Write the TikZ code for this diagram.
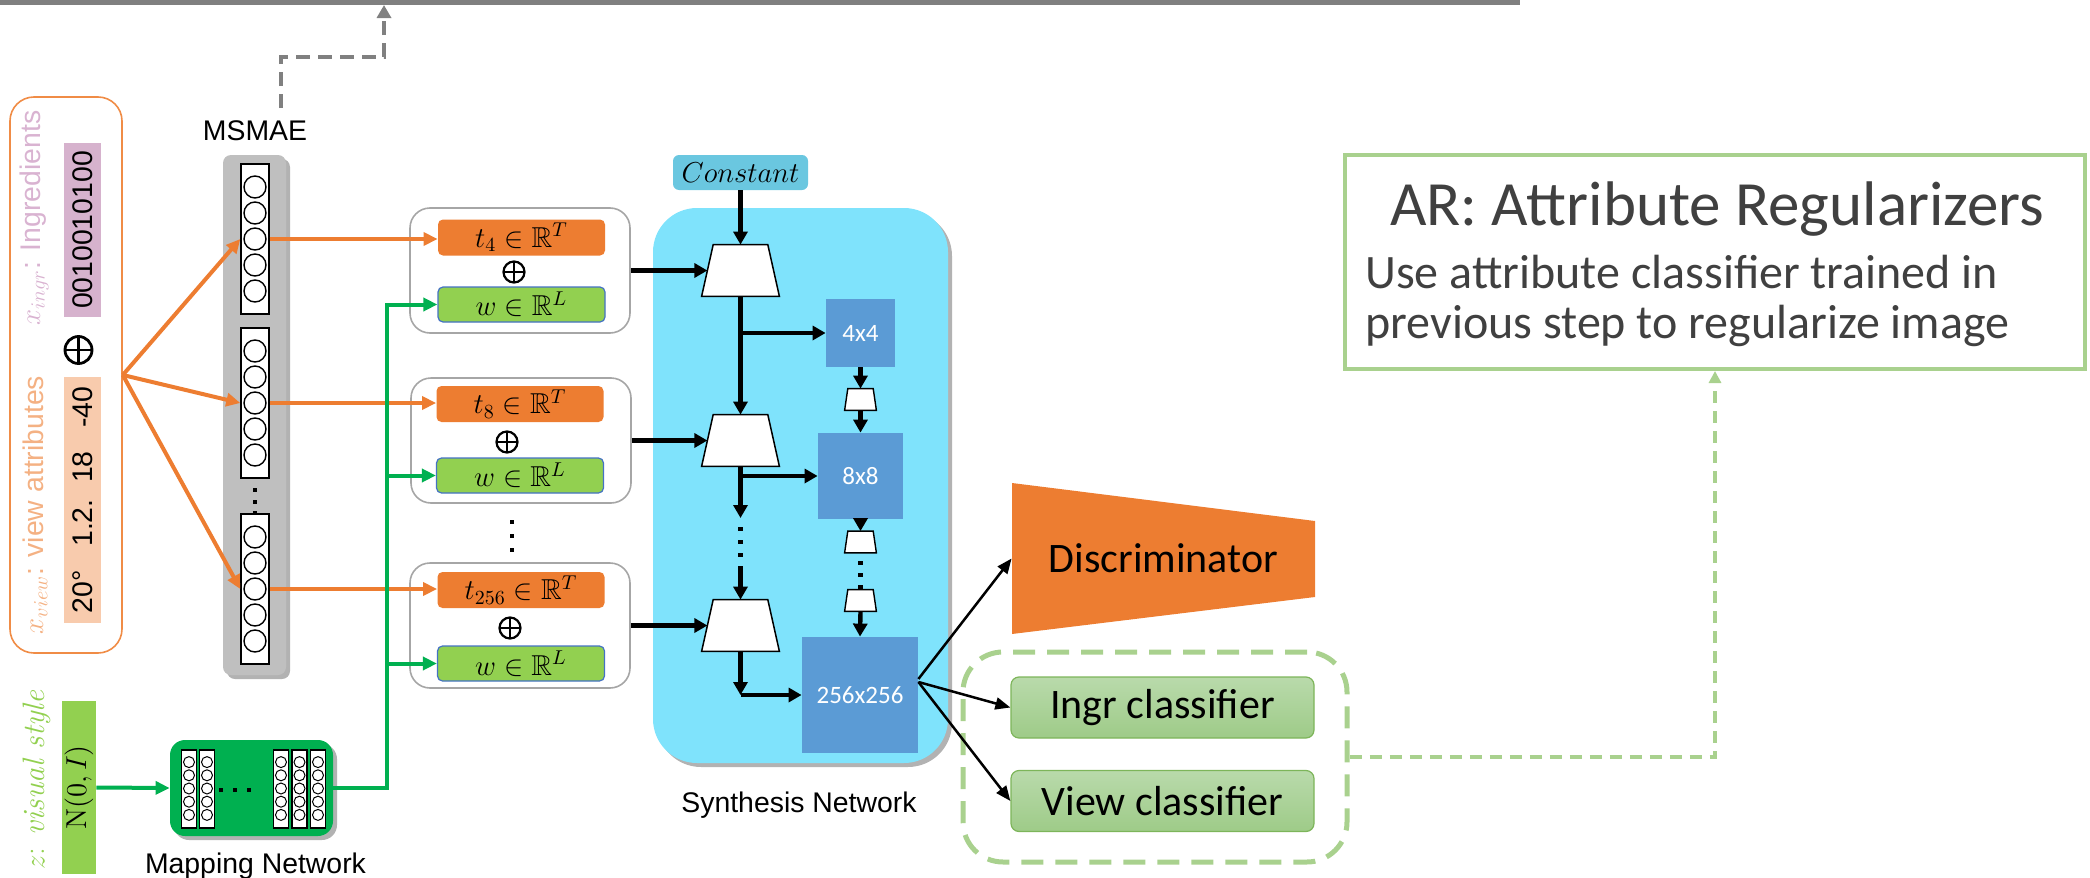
\documentclass[tikz,border=0pt]{standalone}
\usepackage{fontspec}
\usepackage{amssymb}
\usetikzlibrary{arrows.meta,shapes.geometric,shadows,calc}
\newfontfamily\arialf{Liberation Sans}
\newfontfamily\calif{Carlito}
\definecolor{orng}{HTML}{ED7D31}
\definecolor{inborder}{HTML}{F08C46}
\definecolor{ingrtxt}{HTML}{D9B3D1}
\definecolor{ingrfill}{HTML}{D6B2CD}
\definecolor{viewtxt}{HTML}{F4B183}
\definecolor{peach}{HTML}{F8CBAD}
\definecolor{colgray}{HTML}{BFBFBF}
\definecolor{obgray}{HTML}{A6A6A6}
\definecolor{grn}{HTML}{00B050}
\definecolor{lgrn}{HTML}{92D050}
\definecolor{wborder}{HTML}{4472C4}
\definecolor{cyanbg}{HTML}{7FE3FC}
\definecolor{constc}{HTML}{6AC7E0}
\definecolor{blk}{HTML}{5B9BD5}
\definecolor{dgreen}{HTML}{A9D18E}
\definecolor{artext}{HTML}{404040}
\definecolor{clstop}{HTML}{B9DAAB}
\definecolor{clsbot}{HTML}{9ECB88}
\definecolor{clsborder}{HTML}{7DB55A}
\definecolor{topgray}{HTML}{808080}
\begin{document}
\begin{tikzpicture}[x=0.5pt,y=-0.5pt,
  labelfont/.style={font={\arialf\fontsize{14.2pt}{17pt}\selectfont}},
  mfont/.style={font={\fontsize{14.4pt}{17pt}\selectfont}},
  orarr/.style={draw=orng, line width=2pt, -{Triangle[length=7pt,width=6.5pt]}},
  orarrb/.style={draw=orng, line width=1.75pt, -{Triangle[length=7pt,width=6.5pt]}},
  grarr/.style={draw=grn, line width=2pt, -{Triangle[length=7pt,width=6.5pt]}},
  blkarr/.style={draw=black, line width=2.2pt, -{Triangle[length=6.5pt,width=7pt]}},
  thinarr/.style={draw=black, line width=1.25pt, -{Triangle[length=7.5pt,width=6pt]}},
  vecbox/.style={draw, fill=white, line width=0.7pt, minimum width=14pt, minimum height=75pt, inner sep=0},
  neuron/.style={draw, circle, fill=white, minimum size=11pt, inner sep=0, line width=0.7pt},
  mcol/.style={draw, fill=white, line width=0.6pt, minimum width=7.5pt, minimum height=39pt, inner sep=0},
  mneuron/.style={draw, circle, minimum size=5.5pt, inner sep=0, line width=0.5pt},
  dotsq/.style={fill=black, minimum size=2.2pt, inner sep=0},
  oplusnode/.style={draw, circle, inner sep=0, line width=#1,
     path picture={\draw[line width=#1] (path picture bounding box.north) -- (path picture bounding box.south) (path picture bounding box.west) -- (path picture bounding box.east);}},
  outerbox/.style={draw=obgray, line width=0.8pt, rounded corners=10pt, minimum width=110pt, minimum height=62.5pt, fill=white},
  tbox/.style={fill=orng, rounded corners=2.5pt, minimum width=83.5pt, minimum height=18pt, inner sep=0, mfont},
  wbox/.style={fill=lgrn, draw=wborder, line width=0.6pt, rounded corners=2.5pt, minimum width=83.5pt, minimum height=17.5pt, inner sep=0, mfont},
  bigtrap/.style={minimum width=38.5pt, minimum height=25.5pt, inner sep=0},
  smalltrap/.style={minimum width=15.5pt, minimum height=10.5pt, inner sep=0},
  trapline/.style={draw=black, fill=white, line width=0.75pt},
  block/.style={fill=blk, text=white, inner sep=0, font={\calif\fontsize{12.5pt}{14pt}\selectfont}},
  clsbox/.style={top color=clstop, bottom color=clsbot, draw=clsborder, line width=0.6pt, rounded corners=4pt, minimum width=151.5pt, minimum height=30.5pt, font={\calif\fontsize{21pt}{25pt}\selectfont}},
  shd/.style={drop shadow={shadow xshift=2pt, shadow yshift=-2pt, opacity=0.3, fill=black}}
]
\useasboundingbox (0,0) rectangle (2090,878);

% top gray line
\coordinate (tl0) at (0,2.5);
\coordinate (tl1) at (1520,2.5);
\draw[line width=2.5pt, draw=topgray] (tl0) -- (tl1);

% ---------------- input box ----------------
\node[draw=inborder, line width=0.8pt, rounded corners=12pt, minimum width=56pt, minimum height=278pt] (inbox) at (66,375) {};
\node[rotate=90, text=ingrtxt, labelfont] (ingrlbl) at (34,218) {$x_{ingr}$: Ingredients};
\node[rotate=90, fill=ingrfill, minimum width=87pt, minimum height=18.5pt, inner sep=0, labelfont] (ingrvec) at (82.5,230) {0010010100};
\node[oplusnode=1.4pt, minimum size=13.5pt] (opl0) at (78.5,350) {};
\node[rotate=90, fill=peach, minimum width=123pt, minimum height=18.5pt, inner sep=0] (viewvec) at (82.5,500) {};
\node[rotate=90, labelfont, inner sep=0] (v1) at (83,592) {20°};
\node[rotate=90, labelfont, inner sep=0] (v2) at (83,523) {1.2.};
\node[rotate=90, labelfont, inner sep=0] (v3) at (83,467) {18};
\node[rotate=90, labelfont, inner sep=0] (v4) at (83,407) {-40};
\node[rotate=90, text=viewtxt, labelfont] (viewlbl) at (35,505) {$x_{view}$: view attributes};

% ---------------- MSMAE ----------------
\node[fill=colgray, rounded corners=4pt, minimum width=31.5pt, minimum height=260pt, shd] (msmae) at (254.5,415) {};
\node[anchor=base, labelfont] (msmaelbl) at (255,140) {MSMAE};
\node[vecbox] (m1) at (255,239) {};
\node[vecbox] (m2) at (255,403) {};
\node[vecbox] (m3) at (255,589) {};
\foreach \cy/\nm in {239/a,403/b,589/c}{
  \foreach \k in {-2,...,2}{\node[neuron] (n\nm\k) at (255,\cy+26*\k) {};}
}
\foreach \yy in {490,502,513}{\node[dotsq] (md\yy) at (255,\yy) {};}

% gray dashed arrow to top
\coordinate (gd0) at (281,108);
\coordinate (gd1) at (384,57);
\coordinate (gd2) at (384,5);
\draw[draw=topgray, line width=2pt, dash pattern=on 7pt off 4pt, -{Triangle[length=6.5pt,width=7pt]}] (gd0) |- (gd1) -- (gd2);

% orange fan
\draw[orarr] (inbox.east) -- (m1.west);
\draw[orarr] (inbox.east) -- (m2.west);
\draw[orarr] (inbox.east) -- (m3.west);

% ---------------- style/t blocks ----------------
\node[outerbox] (ob1) at (520,270.5) {};
\node[outerbox] (ob2) at (521,440.5) {};
\node[outerbox] (ob3) at (520,625.5) {};
\node[tbox] (t1) at (521.5,237.5) {$t_4 \in \mathbb{R}^T$};
\node[wbox] (w1) at (521.5,304.5) {$w \in \mathbb{R}^L$};
\node[oplusnode=1.1pt, minimum size=10.5pt] (op1) at (514,272) {};
\node[tbox] (t2) at (520,404) {$t_8 \in \mathbb{R}^T$};
\node[wbox] (w2) at (520,475.5) {$w \in \mathbb{R}^L$};
\node[oplusnode=1.1pt, minimum size=10.5pt] (op2) at (507,442) {};
\node[tbox] (t3) at (521,590) {$t_{256} \in \mathbb{R}^T$};
\node[wbox] (w3) at (521,663.5) {$w \in \mathbb{R}^L$};
\node[oplusnode=1.1pt, minimum size=10.5pt] (op3) at (510,628) {};
\foreach \yy in {522,536,550}{\node[dotsq] (od\yy) at (512,\yy) {};}

\draw[orarrb] (m1.east) -- (m1.east -| t1.west);
\draw[orarrb] (m2.east) -- (m2.east -| t2.west);
\draw[orarrb] (m3.east) -- (m3.east -| t3.west);

% ---------------- z / mapping network ----------------
\node[rotate=90, text=lgrn, font={\fontsize{15.5pt}{18pt}\selectfont}] (zlbl) at (37,780) {$z$: \textit{visual style}};
\node[rotate=90, fill=lgrn, minimum width=86.5pt, minimum height=17pt, inner sep=0, mfont] (nbox) at (79,787.5) {$\mathrm{N}(0,I)$};
\node[fill=grn, rounded corners=7.5pt, minimum width=81.5pt, minimum height=48pt, shd] (map) at (251.5,788) {};
\foreach \cx/\nm in {189/a,207/b,281/c,299.5/d,318/e}{
  \node[mcol] (mc\nm) at (\cx,789) {};
  \foreach \k in {-2,...,2}{\node[mneuron] (mn\nm\k) at (\cx,788.5+13.2*\k) {};}
}
\foreach \xx in {221,235,249}{\node[dotsq] (mpd\xx) at (\xx,790) {};}
\node[anchor=base, labelfont] (maplbl) at (255.5,873) {Mapping Network};
\draw[grarr] (nbox.south) -- (map.west);

\coordinate (gbus) at (387,788);
\draw[grarr] (map.east) -| (gbus |- w1.west) -- (w1.west);
\draw[grarr] (gbus |- w2.west) -- (w2.west);
\draw[grarr] (gbus |- w3.west) -- (w3.west);

% ---------------- synthesis network ----------------
\node[fill=cyanbg, rounded corners=22pt, minimum width=147.5pt, minimum height=277.5pt, shd] (syn) at (800.5,485.5) {};
\node[anchor=base, labelfont] (synlbl) at (799,812) {Synthesis Network};
\node[fill=constc, rounded corners=3pt, minimum width=67.5pt, minimum height=17.5pt, inner sep=0, mfont] (const) at (740.5,172.5) {$Constant$};
\node[bigtrap] (tr1) at (740.5,270.5) {};
\node[bigtrap] (tr2) at (740.5,440.5) {};
\node[bigtrap] (tr3) at (740.5,625.5) {};
\foreach \t in {tr1,tr2,tr3}{
  \draw[trapline] ([xshift=5.8pt]\t.north west) -- ([xshift=-5.8pt]\t.north east) -- (\t.south east) -- (\t.south west) -- cycle;
}
\node[block, minimum width=34.5pt, minimum height=34pt] (b4) at (860.5,333) {4x4};
\node[block, minimum width=42.5pt, minimum height=43pt] (b8) at (860.5,476) {8x8};
\node[block, minimum width=58pt, minimum height=58pt] (b256) at (860,695) {256x256};
\node[smalltrap] (st1) at (860.5,399.5) {};
\node[smalltrap] (st2) at (860.5,542) {};
\node[smalltrap] (st3) at (860.5,600.5) {};
\foreach \t in {st1,st2,st3}{
  \draw[trapline, line width=0.7pt] ([xshift=1.6pt]\t.north west) -- ([xshift=-1.6pt]\t.north east) -- (\t.south east) -- (\t.south west) -- cycle;
}

\draw[blkarr] (const.south) -- (tr1.north);
\draw[blkarr] (ob1.east) -- ([xshift=2.9pt]tr1.west);
\draw[blkarr] (ob2.east) -- ([xshift=2.9pt]tr2.west);
\draw[blkarr] (ob3.east) -- ([xshift=2.9pt]tr3.west);
\draw[blkarr] (tr1.south) -- (tr2.north);
\draw[blkarr] (tr1.south |- b4.west) -- (b4.west);
\coordinate (tk1) at (740.5,518);
\coordinate (tk2) at (740.5,566);
\draw[blkarr] (tr2.south) -- (tk1);
\draw[blkarr] (tr2.south |- b8.west) -- (b8.west);
\foreach \yy in {529,542,555}{\node[dotsq] (sd\yy) at (740.5,\yy) {};}
\draw[blkarr] (tk2) -- (tr3.north);
\draw[blkarr] (tr3.south) -- (tr3.south |- b256.west);
\draw[blkarr] (tr3.south |- b256.west) -- (b256.west);
\draw[blkarr] (b4.south) -- (st1.north);
\draw[blkarr] (st1.south) -- (b8.north);
\draw[blkarr] (b8.south) -- (st2.north);
\foreach \yy in {563,575,587}{\node[dotsq] (rd\yy) at (860.5,\yy) {};}
\draw[blkarr] (st3.south) -- (b256.north);

% ---------------- discriminator & classifiers ----------------
\node[minimum width=151.5pt, minimum height=75.5pt, inner sep=0,
      font={\calif\fontsize{21pt}{25pt}\selectfont},
      path picture={\fill[orng] (path picture bounding box.north west) -- ([yshift=-19pt]path picture bounding box.north east) -- ([yshift=18.5pt]path picture bounding box.south east) -- (path picture bounding box.south west) -- cycle;}] (disc) at (1163.5,558.5) {Discriminator};
\node[clsbox] (ingr) at (1162.5,707.5) {Ingr classifier};
\node[clsbox] (view) at (1162.5,801) {View classifier};
\node[draw=dgreen, line width=2.5pt, dash pattern=on 11pt off 6pt, rounded corners=20pt, minimum width=192pt, minimum height=105pt] (dr) at (1155,757) {};

\draw[thinarr] ([yshift=8pt]b256.east) -- (disc.west);
\draw[thinarr] ([yshift=6.5pt]b256.east) -- (ingr.west);
\draw[thinarr] ([yshift=6.5pt]b256.east) -- (view.west);

% ---------------- AR box ----------------
\node[draw=dgreen, line width=2pt, fill=white, minimum width=370pt, minimum height=107pt] (ar) at (1715,262) {};
\node[anchor=base, text=artext, font={\calif\fontsize{31.5pt}{36pt}\selectfont}] (artitle) at (1717,225) {AR: Attribute Regularizers};
\node[anchor=base west, inner sep=0, text=artext, font={\calif\fontsize{24pt}{28pt}\selectfont}] (arl1) at (1365,288) {Use attribute classifier trained in};
\node[anchor=base west, inner sep=0, text=artext, font={\calif\fontsize{24pt}{28pt}\selectfont}] (arl2) at (1365,338) {previous step to regularize image};

\draw[draw=dgreen, line width=1.75pt, dash pattern=on 6pt off 4pt, -{Triangle[length=6pt,width=6pt]}] (dr.east) -| (ar.south);
\end{tikzpicture}
\end{document}
